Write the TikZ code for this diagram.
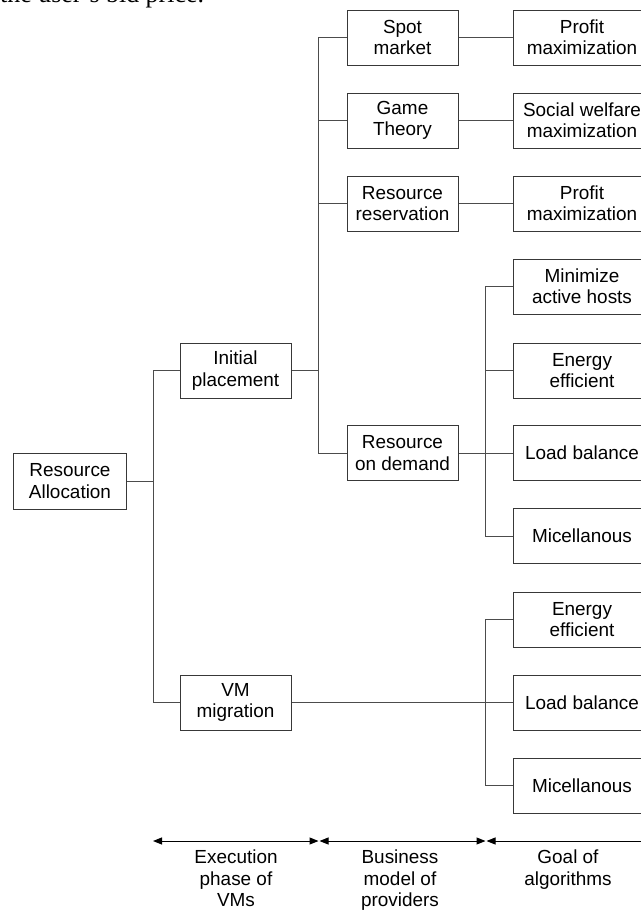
\documentclass[tikz,border=0pt]{standalone}
\usepackage{fontspec}
\setmainfont{Liberation Sans}
\newfontfamily\fragserif{Liberation Serif}
\usetikzlibrary{arrows.meta}
\begin{document}
\begin{tikzpicture}[x=1bp,y=-1bp,
  every node/.style={font=\fontsize{19}{21.5}\selectfont},
  box/.style={draw=black!78,line width=1bp,fill=white,rectangle,inner sep=0pt,
    minimum width=111bp,minimum height=55bp,align=center},
  widebox/.style={box,minimum width=138bp},
  link/.style={draw=black!70,line width=1bp},
  span/.style={draw=black,line width=1bp,{Triangle[length=9bp,width=7bp]}-{Triangle[length=9bp,width=7bp]}},
  lab/.style={align=center,anchor=north,inner sep=0pt}]
\useasboundingbox (0,0) rectangle (641,913);
\clip (0,0) rectangle (641,913);
% cut-off text line at the top
\node[anchor=base west,inner sep=0pt,font=\fragserif\fontsize{26}{30}\selectfont] (frag) at (0,2) {the user’s bid price.};
% column 1
\node[box,minimum width=112bp,minimum height=56bp] (RA) at (70,481) {Resource\\Allocation};
% column 2
\node[box] (IP) at (235.5,370.5) {Initial\\placement};
\node[box] (VM) at (235.5,702.5) {VM\\migration};
% column 3
\node[box] (SM) at (402.5,37.5) {Spot\\market};
\node[box] (GT) at (402.5,120.5) {Game\\Theory};
\node[box] (RR) at (402.5,203.5) {Resource\\reservation};
\node[box] (RD) at (402.5,453) {Resource\\on demand};
% column 4
\node[widebox] (P1) at (582,37.5) {Profit\\maximization};
\node[widebox] (SW) at (582,120.5) {Social welfare\\maximization};
\node[widebox] (P2) at (582,203.5) {Profit\\maximization};
\node[widebox] (MA) at (582,286.5) {Minimize\\active hosts};
\node[widebox] (E1) at (582,370.5) {Energy\\efficient};
\node[widebox] (L1) at (582,453) {Load balance};
\node[widebox] (M1) at (582,536) {Micellanous};
\node[widebox] (E2) at (582,619.5) {Energy\\efficient};
\node[widebox] (L2) at (582,702.5) {Load balance};
\node[widebox] (M2) at (582,785.5) {Micellanous};
% junctions
\coordinate (j1) at (153,481);
\coordinate (j2) at (318,370.5);
\coordinate (j3) at (485,453);
\coordinate (j4) at (485,702.5);
% connectors
\draw[link] (RA.east) -- (j1);
\draw[link] (j1) |- (IP.west);
\draw[link] (j1) |- (VM.west);
\draw[link] (IP.east) -- (j2);
\draw[link] (j2) |- (SM.west);
\draw[link] (j2) |- (GT.west);
\draw[link] (j2) |- (RR.west);
\draw[link] (j2) |- (RD.west);
\draw[link] (SM.east) -- (P1.west);
\draw[link] (GT.east) -- (SW.west);
\draw[link] (RR.east) -- (P2.west);
\draw[link] (RD.east) -- (L1.west);
\draw[link] (j3) |- (MA.west);
\draw[link] (j3) |- (E1.west);
\draw[link] (j3) |- (M1.west);
\draw[link] (VM.east) -- (L2.west);
\draw[link] (j4) |- (E2.west);
\draw[link] (j4) |- (M2.west);
% bottom scale
\coordinate (a0) at (153,841);
\coordinate (a1) at (318.5,841);
\coordinate (a2) at (319.5,841);
\coordinate (a3) at (485.5,841);
\coordinate (a4) at (486.5,841);
\coordinate (a5) at (660,841);
\draw[span] (a0) -- (a1);
\draw[span] (a2) -- (a3);
\draw[span] (a4) -- (a5);
\node[lab] (t1) at (236,850) {Execution\\phase of\\VMs};
\node[lab] (t2) at (400,850) {Business\\model of\\providers};
\node[lab] (t3) at (568,850) {Goal of\\algorithms};
\end{tikzpicture}
\end{document}
